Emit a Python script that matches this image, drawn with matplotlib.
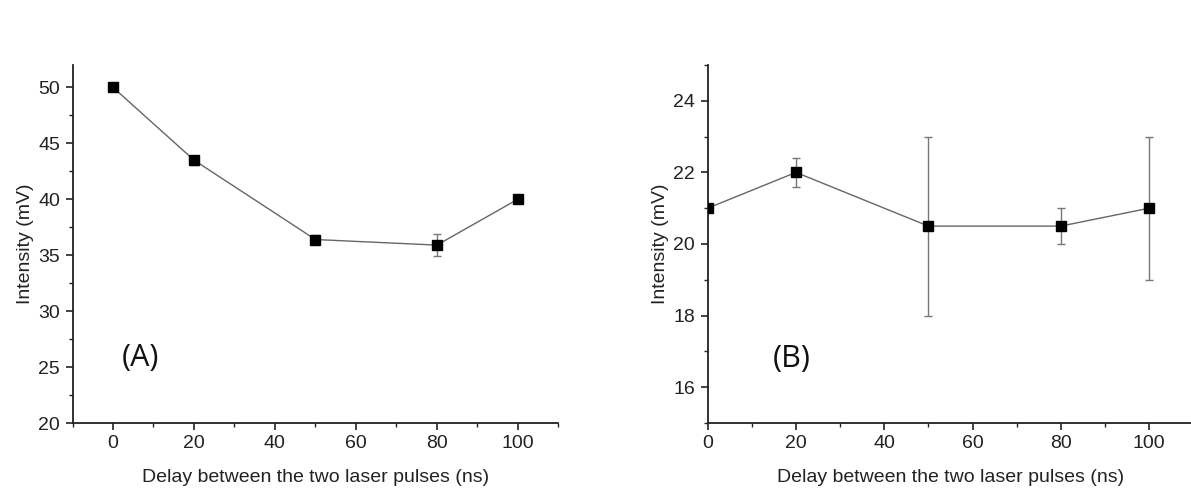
import numpy as np
import matplotlib.pyplot as plt
from matplotlib.ticker import MultipleLocator

# delay values (ns) and measured intensities (mV)
delay = [0, 20, 50, 80, 100]

intensity_a = [50.0, 43.5, 36.4, 35.9, 40.0]
error_a = [0.1, 0.4, 0.4, 1.0, 0.1]

intensity_b = [21.0, 22.0, 20.5, 20.5, 21.0]
error_b = [0.0, 0.4, 2.5, 0.5, 2.0]

plt.rcParams['font.family'] = ['Liberation Sans', 'DejaVu Sans']

W, H = 1191, 497
fig = plt.figure(figsize=(W / 100, H / 100), dpi=100)

# axes boxes in pixels (left, right, top, bottom)
ax1 = fig.add_axes([72.5 / W, 1 - 423 / H, (558.3 - 72.5) / W, (423 - 65) / H])
ax2 = fig.add_axes([707.7 / W, 1 - 423 / H, (110 * 4.414) / W, (423 - 65) / H])


def panel(ax, y, err, xlim, ylim, ymaj, ymin, tag, tagpos):
    ax.errorbar(delay, y, yerr=err, color='#666666', lw=1.0, ecolor='#777777',
                elinewidth=1.0, capsize=3, capthick=1.0, zorder=2)
    ax.plot(delay, y, 's', color='black', ms=6.5, zorder=3)
    ax.set_xlim(*xlim)
    ax.set_ylim(*ylim)
    ax.xaxis.set_major_locator(MultipleLocator(20))
    ax.xaxis.set_minor_locator(MultipleLocator(10))
    ax.yaxis.set_major_locator(MultipleLocator(ymaj))
    ax.yaxis.set_minor_locator(MultipleLocator(ymin))
    for s in ['top', 'right']:
        ax.spines[s].set_visible(False)
    for s in ['left', 'bottom']:
        ax.spines[s].set_linewidth(1.3)
        ax.spines[s].set_color('#222222')
    ax.tick_params(which='major', direction='out', length=5, width=1.2,
                   labelsize=14, colors='#222222', pad=4)
    ax.tick_params(which='minor', direction='out', length=3, width=1.0,
                   colors='#222222')
    ax.set_xlabel('Delay between the two laser pulses (ns)', fontsize=14,
                  color='#222222', labelpad=12)
    ax.set_ylabel('Intensity (mV)', fontsize=14, color='#222222', labelpad=3)
    ax.text(tagpos[0], tagpos[1], tag, fontsize=22, family='Open Sans',
            ha='center', va='center', color='#111111')


panel(ax1, intensity_a, error_a, (-10, 110), (20, 52), 5, 2.5, '(A)', (6.9, 25.8))
panel(ax2, intensity_b, error_b, (0, 110), (15, 25), 2, 1, '(B)', (19.1, 16.8))

fig.savefig('out.png', dpi=100)
